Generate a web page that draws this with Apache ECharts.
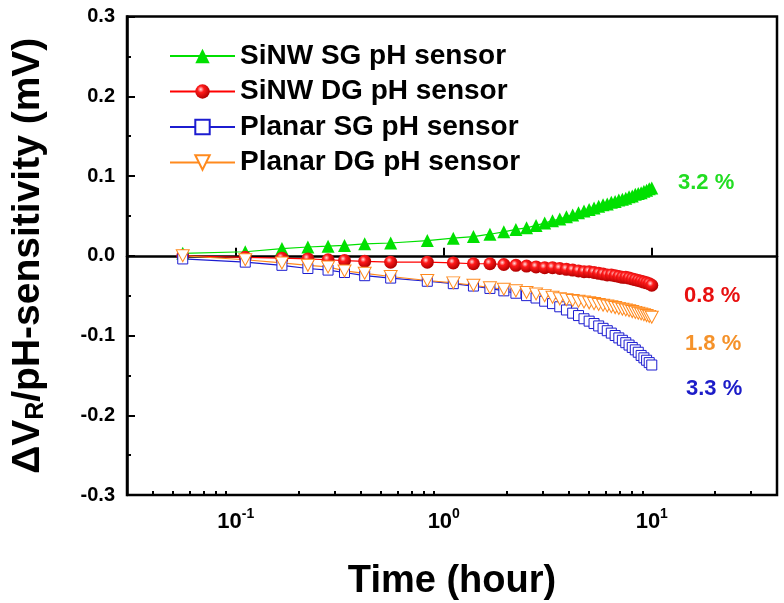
<!DOCTYPE html>
<html><head><meta charset="utf-8">
<script src="https://cdn.jsdelivr.net/npm/echarts@6/dist/echarts.min.js"></script>
<style>html,body{margin:0;padding:0;background:#fff}#c{width:784px;height:603px}</style>
</head><body><div id="c"></div>
<script>
// ---- data ----
const timeHours = [0.0556, 0.1111, 0.1667, 0.2222, 0.2778, 0.3333, 0.4167, 0.5556, 0.8333,
  1.1111, 1.3889, 1.6667, 1.9444, 2.2222, 2.5, 2.7778, 3.0556, 3.3333, 3.6111, 3.8889,
  4.1667, 4.4444, 4.7222, 5.0, 5.2778, 5.5556, 5.8333, 6.1111, 6.3889, 6.6667, 6.9444,
  7.2222, 7.5, 7.7778, 8.0556, 8.3333, 8.6111, 8.8889, 9.1667, 9.4444, 9.7222, 10.0];
const siNwSG = [0.003, 0.005, 0.009, 0.011, 0.012, 0.013, 0.015, 0.016, 0.019,
  0.022, 0.024, 0.027, 0.030, 0.033, 0.035, 0.038, 0.041, 0.044, 0.046, 0.049,
  0.051, 0.054, 0.056, 0.058, 0.060, 0.062, 0.064, 0.065, 0.067, 0.068, 0.070,
  0.071, 0.072, 0.074, 0.075, 0.077, 0.078, 0.079, 0.081, 0.082, 0.084, 0.085];
const siNwDG = [0.000, -0.002, -0.003, -0.004, -0.005, -0.006, -0.007, -0.008, -0.008,
  -0.009, -0.010, -0.010, -0.011, -0.012, -0.013, -0.014, -0.015, -0.015, -0.016, -0.017,
  -0.018, -0.019, -0.020, -0.020, -0.021, -0.022, -0.023, -0.024, -0.024, -0.025, -0.026,
  -0.027, -0.027, -0.028, -0.029, -0.030, -0.031, -0.032, -0.033, -0.034, -0.035, -0.037];
const planarSG = [-0.004, -0.008, -0.012, -0.016, -0.018, -0.021, -0.025, -0.028, -0.032,
  -0.035, -0.038, -0.041, -0.044, -0.047, -0.050, -0.053, -0.057, -0.060, -0.064, -0.068,
  -0.072, -0.075, -0.079, -0.082, -0.085, -0.088, -0.091, -0.094, -0.097, -0.100, -0.103,
  -0.106, -0.109, -0.112, -0.115, -0.118, -0.121, -0.125, -0.128, -0.131, -0.134, -0.137];
const planarDG = [0.000, -0.005, -0.009, -0.012, -0.014, -0.019, -0.022, -0.026, -0.031,
  -0.034, -0.037, -0.040, -0.042, -0.044, -0.046, -0.048, -0.050, -0.052, -0.054, -0.055,
  -0.056, -0.057, -0.058, -0.059, -0.060, -0.061, -0.062, -0.063, -0.064, -0.065, -0.066,
  -0.067, -0.068, -0.069, -0.070, -0.071, -0.072, -0.073, -0.074, -0.075, -0.076, -0.077];
const seriesNames = ['SiNW SG pH sensor', 'SiNW DG pH sensor', 'Planar SG pH sensor', 'Planar DG pH sensor'];
const driftLabels = ['3.2 %', '0.8 %', '1.8 %', '3.3 %'];
const xMajorTicks = [0.1, 1, 10];
const xMinorTicks = [0.04, 0.05, 0.06, 0.07, 0.08, 0.09, 0.2, 0.3, 0.4, 0.5, 0.6, 0.7, 0.8, 0.9,
  2, 3, 4, 5, 6, 7, 8, 9, 20, 30];
const yTickLabels = ['-0.3', '-0.2', '-0.1', '0.0', '0.1', '0.2', '0.3'];

// ---- styling ----
const FONT = '"Liberation Sans", Arial, Helvetica, sans-serif';
const GREEN = '#00e000', RED = '#ff0000', BLUE = '#1c1cd0', ORANGE = '#ff8a1e';
const pair = arr => timeHours.map((t, i) => [t, arr[i]]);

const chart = echarts.init(document.getElementById('c'), null, { renderer: 'canvas' });
const option = {
  animation: false,
  backgroundColor: '#ffffff',
  grid: { left: 127, right: 7, top: 16.5, bottom: 108, show: true, borderColor: '#000', borderWidth: 2.5,
    outerBoundsMode: 'none', containLabel: false },
  legend: {
    data: seriesNames, orient: 'vertical', left: 164, top: 36,
    itemWidth: 65, itemHeight: 18, itemGap: 5.5,
    textStyle: { fontFamily: FONT, fontSize: 28, fontWeight: 'bold', color: '#000', lineHeight: 30 }
  },
  xAxis: [{
    type: 'log', logBase: 10, min: 0.03, max: 40, position: 'bottom',
    axisLine: { lineStyle: { color: '#000', width: 2.5 } },
    axisTick: { inside: true, length: 8, customValues: xMajorTicks, lineStyle: { color: '#000', width: 2 } },
    axisLabel: {
      customValues: xMajorTicks, margin: 12,
      formatter: v => {
        const e = Math.round(Math.log10(v));
        if (Math.abs(v / Math.pow(10, e) - 1) > 1e-6) return '';
        return '{b|10}{s|' + e + '}';
      },
      rich: {
        b: { fontFamily: FONT, fontSize: 22, fontWeight: 'bold', color: '#000', lineHeight: 30 },
        s: { fontFamily: FONT, fontSize: 14, fontWeight: 'bold', color: '#000', lineHeight: 30, verticalAlign: 'top' }
      }
    },
    splitLine: { show: false },
    name: 'Time (hour)', nameLocation: 'middle', nameGap: 68,
    nameTextStyle: { fontFamily: FONT, fontSize: 38, fontWeight: 'bold', color: '#000' }
  }, {
    type: 'log', logBase: 10, min: 0.03, max: 40, position: 'bottom',
    axisLine: { show: false },
    axisTick: { inside: true, length: 4, customValues: xMinorTicks, lineStyle: { color: '#000', width: 2 } },
    axisLabel: { show: false },
    splitLine: { show: false }
  }],
  yAxis: {
    type: 'value', min: -0.3, max: 0.3, interval: 0.1,
    axisLine: { show: true, lineStyle: { color: '#000', width: 2.5 } },
    axisTick: { show: true, inside: true, length: 8, lineStyle: { color: '#000', width: 2 } },
    minorTick: { show: true, splitNumber: 2, length: 4, lineStyle: { color: '#000', width: 2 } },
    axisLabel: {
      margin: 12, fontFamily: FONT, fontSize: 20, fontWeight: 'bold', color: '#000',
      formatter: v => yTickLabels[Math.round((v + 0.3) / 0.1)]
    },
    splitLine: { show: false },
    name: '{a|ΔV}{s|R}{a|/pH-sensitivity (mV)}', nameLocation: 'middle', nameGap: 78,
    nameTextStyle: {
      rich: {
        a: { fontFamily: FONT, fontSize: 39, fontWeight: 'bold', color: '#000', lineHeight: 42 },
        s: { fontFamily: FONT, fontSize: 25, fontWeight: 'bold', color: '#000', lineHeight: 42, verticalAlign: 'bottom' }
      }
    }
  },
  series: [{
    name: seriesNames[0], type: 'line', data: pair(siNwSG),
    symbol: 'triangle', symbolSize: 13,
    itemStyle: { color: GREEN }, lineStyle: { color: GREEN, width: 1.2 }
  }, {
    name: seriesNames[1], type: 'line', data: pair(siNwDG),
    symbol: 'circle', symbolSize: 13,
    itemStyle: { color: { type: 'radial', x: 0.38, y: 0.35, r: 0.65,
      colorStops: [{ offset: 0, color: '#ffe0e0' }, { offset: 0.35, color: '#ff1a1a' }, { offset: 1, color: '#b00000' }] } },
    lineStyle: { color: RED, width: 1.2 }
  }, {
    name: seriesNames[2], type: 'line', data: pair(planarSG),
    symbol: 'rect', symbolSize: 10,
    itemStyle: { color: '#ffffff', borderColor: BLUE, borderWidth: 1 },
    lineStyle: { color: BLUE, width: 1.2 }
  }, {
    name: seriesNames[3], type: 'line', data: pair(planarDG),
    symbol: 'path://M0,0 L20,0 L10,17.32 Z', symbolSize: [13, 12],
    itemStyle: { color: '#ffffff', borderColor: ORANGE, borderWidth: 1 },
    lineStyle: { color: ORANGE, width: 1.2 }
  }],
  graphic: [
    { type: 'text', left: 678, top: 172, style: { text: driftLabels[0], fill: '#22dd22', font: 'bold 22px ' + FONT } },
    { type: 'text', left: 684, top: 285, style: { text: driftLabels[1], fill: '#e81010', font: 'bold 22px ' + FONT } },
    { type: 'text', left: 685, top: 333, style: { text: driftLabels[2], fill: '#f5922a', font: 'bold 22px ' + FONT } },
    { type: 'text', left: 686, top: 378, style: { text: driftLabels[3], fill: '#1c1cc8', font: 'bold 22px ' + FONT } }
  ]
};
chart.setOption(option);
</script></body></html>
